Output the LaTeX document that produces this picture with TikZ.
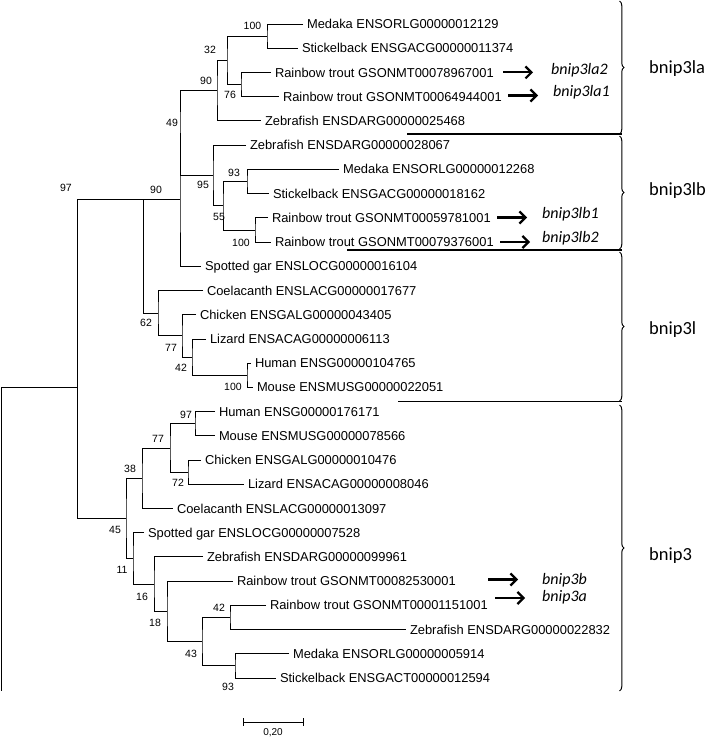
\documentclass[tikz,border=0pt]{standalone}
\usepackage{fontspec}
\setmainfont{Liberation Sans}
\newfontfamily\calibri{Carlito}
\usetikzlibrary{arrows.meta,decorations.pathreplacing}

\tikzset{
  leaf/.style={anchor=west, inner sep=0pt, outer xsep=4pt, text height=9.24pt, text depth=0pt, font=\fontsize{12.9}{14}\selectfont},
  boot/.style={inner sep=0pt, font=\fontsize{10.5}{12}\selectfont},
  gene/.style={anchor=west, inner sep=0pt, font=\calibri\itshape\fontsize{16}{18}\selectfont},
  clade/.style={anchor=west, inner sep=0pt, font=\calibri\fontsize{18.5}{20}\selectfont},
  branch/.style={line width=0.8pt},
  genearrow/.style={line width=2.2pt, -{Straight Barb[length=6pt,width=12pt]}},
  cladeline/.style={line width=1.2pt},
  bracket/.style={line width=1pt, decorate, decoration={brace, amplitude=4.5pt}},
}

\begin{document}
\begin{tikzpicture}[x=1pt, y=-1pt]
\useasboundingbox (0,0) rectangle (705,738);

% leaves, bnip3l side
\node[leaf] (medA) at (303,24) {Medaka ENSORLG00000012129};
\node[leaf] (stkA) at (298,48.2) {Stickelback ENSGACG00000011374};
\node[leaf] (rtA2) at (271,72.4) {Rainbow trout GSONMT00078967001};
\node[leaf] (rtA1) at (279,96.7) {Rainbow trout GSONMT00064944001};
\node[leaf] (zfA) at (261,120.9) {Zebrafish ENSDARG00000025468};
\node[leaf] (zfB) at (246,145.1) {Zebrafish ENSDARG00000028067};
\node[leaf] (medB) at (339,169.3) {Medaka ENSORLG00000012268};
\node[leaf] (stkB) at (269,193.5) {Stickelback ENSGACG00000018162};
\node[leaf] (rtB1) at (268,217.8) {Rainbow trout GSONMT00059781001};
\node[leaf] (rtB2) at (271,242) {Rainbow trout GSONMT00079376001};
\node[leaf] (garL) at (201,266.2) {Spotted gar ENSLOCG00000016104};
\node[leaf] (coeL) at (203,290.4) {Coelacanth ENSLACG00000017677};
\node[leaf] (chkL) at (196,314.6) {Chicken ENSGALG00000043405};
\node[leaf] (lizL) at (206,338.9) {Lizard ENSACAG00000006113};
\node[leaf] (humL) at (251,363.1) {Human ENSG00000104765};
\node[leaf] (musL) at (253,387.3) {Mouse ENSMUSG00000022051};
% leaves, bnip3 side
\node[leaf] (hum3) at (215,411.5) {Human ENSG00000176171};
\node[leaf] (mus3) at (215,435.7) {Mouse ENSMUSG00000078566};
\node[leaf] (chk3) at (201,460) {Chicken ENSGALG00000010476};
\node[leaf] (liz3) at (244,484.2) {Lizard ENSACAG00000008046};
\node[leaf] (coe3) at (173,508.4) {Coelacanth ENSLACG00000013097};
\node[leaf] (gar3) at (144,532.6) {Spotted gar ENSLOCG00000007528};
\node[leaf] (zf3b) at (203,556.8) {Zebrafish ENSDARG00000099961};
\node[leaf] (rt3b) at (233,581.1) {Rainbow trout GSONMT00082530001};
\node[leaf] (rt3a) at (266,605.3) {Rainbow trout GSONMT00001151001};
\node[leaf] (zf3a) at (406,629.5) {Zebrafish ENSDARG00000022832};
\node[leaf] (med3) at (289,653.7) {Medaka ENSORLG00000005914};
\node[leaf] (stk3) at (276,677.9) {Stickelback ENSGACT00000012594};

% inner nodes
\coordinate (n100a) at (267,36.1);
\coordinate (n76) at (241,84.55);
\coordinate (n32) at (227,60.3);
\coordinate (n90a) at (217,90.6);
\coordinate (n93) at (247,181.4);
\coordinate (n100b) at (255,229.9);
\coordinate (n55) at (223,205.65);
\coordinate (n95) at (213,175.4);
\coordinate (n49) at (180,133);
\coordinate (n90b) at (180,199.6);
\coordinate (n100c) at (247,375.2);
\coordinate (n42) at (192,357);
\coordinate (n77) at (182,335.8);
\coordinate (n62) at (158,313.1);
\coordinate (n62p) at (143,199.6);
\coordinate (n97) at (77,199.6);
\coordinate (n97b) at (195,423.6);
\coordinate (n72) at (188,472.1);
\coordinate (n77b) at (170,447.9);
\coordinate (n38) at (142,478.1);
\coordinate (n93b) at (235,665.8);
\coordinate (n42b) at (230,617.4);
\coordinate (n43) at (202,641.6);
\coordinate (n18) at (167,611.4);
\coordinate (n16) at (154,584.1);
\coordinate (n11) at (133,558.4);
\coordinate (n45) at (126,518.2);
\coordinate (ntop) at (77,387.3);
\coordinate (root) at (1,387.3);
\coordinate (rootend) at (1,691);

% branches
\draw[branch] (medA.west) -| (n100a) |- (stkA.west);
\draw[branch] (rtA2.west) -| (n76) |- (rtA1.west);
\draw[branch] (n100a) -| (n32) |- (n76);
\draw[branch] (n32) -| (n90a) |- (zfA.west);
\draw[branch] (medB.west) -| (n93) |- (stkB.west);
\draw[branch] (rtB1.west) -| (n100b) |- (rtB2.west);
\draw[branch] (n93) -| (n55) |- (n100b);
\draw[branch] (zfB.west) -| (n95) |- (n55);
\draw[branch] (n90a) -| (n49) |- (n95);
\draw[branch] (n49) -| (n90b) |- (garL.west);
\draw[branch] (humL.west) -| (n100c) |- (musL.west);
\draw[branch] (lizL.west) -| (n42) |- (n100c);
\draw[branch] (chkL.west) -| (n77) |- (n42);
\draw[branch] (coeL.west) -| (n62) |- (n77);
\draw[branch] (n62p) |- (n62);
\draw[branch] (hum3.west) -| (n97b) |- (mus3.west);
\draw[branch] (chk3.west) -| (n72) |- (liz3.west);
\draw[branch] (n97b) -| (n77b) |- (n72);
\draw[branch] (n77b) -| (n38) |- (coe3.west);
\draw[branch] (med3.west) -| (n93b) |- (stk3.west);
\draw[branch] (rt3a.west) -| (n42b) |- (zf3a.west);
\draw[branch] (n42b) -| (n43) |- (n93b);
\draw[branch] (rt3b.west) -| (n18) |- (n43);
\draw[branch] (zf3b.west) -| (n16) |- (n18);
\draw[branch] (gar3.west) -| (n11) |- (n16);
\draw[branch] (n38) -| (n45) |- (n11);
\draw[branch] (n90b) -- (n97) |- (n45);
\draw[branch] (ntop) -- (root) -- (rootend);

% bootstrap values
\node[boot] (bs100a) at (252.5,26) {100};
\node[boot] (bs32) at (210,50) {32};
\node[boot] (bs90a) at (206,81) {90};
\node[boot] (bs76) at (230,95) {76};
\node[boot] (bs49) at (172,123) {49};
\node[boot] (bs95) at (203,185) {95};
\node[boot] (bs90b) at (156,190) {90};
\node[boot] (bs93) at (234,173) {93};
\node[boot] (bs55) at (219,217) {55};
\node[boot] (bs100b) at (241,243) {100};
\node[boot] (bs97) at (66,188) {97};
\node[boot] (bs62) at (146,323) {62};
\node[boot] (bs77) at (171,348) {77};
\node[boot] (bs42) at (181,368) {42};
\node[boot] (bs100c) at (233,387) {100};
\node[boot] (bs97b) at (186,415) {97};
\node[boot] (bs77b) at (158,439) {77};
\node[boot] (bs72) at (178,483) {72};
\node[boot] (bs38) at (130,469) {38};
\node[boot] (bs45) at (115,530) {45};
\node[boot] (bs11) at (122,570) {11};
\node[boot] (bs16) at (142,597) {16};
\node[boot] (bs18) at (155,623) {18};
\node[boot] (bs42b) at (219,608) {42};
\node[boot] (bs43) at (191,654) {43};
\node[boot] (bs93b) at (228,687) {93};

% gene arrows
\coordinate (la2s) at (503,72.4);  \coordinate (la2e) at (533,72.4);
\coordinate (la1s) at (508,95.5);  \coordinate (la1e) at (538,95.5);
\coordinate (lb1s) at (497,217.5); \coordinate (lb1e) at (527,217.5);
\coordinate (lb2s) at (500,242);   \coordinate (lb2e) at (530,242);
\coordinate (g3bs) at (488,579.5); \coordinate (g3be) at (518,579.5);
\coordinate (g3as) at (495,598);   \coordinate (g3ae) at (525,598);
\draw[genearrow] (la2s) -- (la2e);
\draw[genearrow] (la1s) -- (la1e);
\draw[genearrow] (lb1s) -- (lb1e);
\draw[genearrow] (lb2s) -- (lb2e);
\draw[genearrow] (g3bs) -- (g3be);
\draw[genearrow] (g3as) -- (g3ae);
\node[gene] (la2) at (551,70) {bnip3la2};
\node[gene] (la1) at (553,92) {bnip3la1};
\node[gene] (lb1) at (542,214) {bnip3lb1};
\node[gene] (lb2) at (542,238) {bnip3lb2};
\node[gene] (g3b) at (542,580) {bnip3b};
\node[gene] (g3a) at (542,597) {bnip3a};

% clade separators and brackets
\coordinate (sepA) at (407,134);  \coordinate (sepAe) at (622,134);
\coordinate (sepB) at (347,250);  \coordinate (sepBe) at (622,250);
\coordinate (sepC) at (398,401.5);\coordinate (sepCe) at (622,401.5);
\draw[cladeline] (sepA) -- (sepAe);
\draw[cladeline] (sepB) -- (sepBe);
\draw[cladeline] (sepC) -- (sepCe);
\draw[bracket] (619.5,1) -- (619.5,134);
\draw[bracket] (619.5,136) -- (619.5,249);
\draw[bracket] (619.5,252) -- (619.5,401);
\draw[bracket] (619.5,405) -- (619.5,691);
\node[clade] (cla) at (649,68.5) {bnip3la};
\node[clade] (clb) at (649,191) {bnip3lb};
\node[clade] (cl) at (649,330) {bnip3l};
\node[clade] (c3) at (649,556) {bnip3};

% scale bar
\coordinate (sbl) at (243,722);
\coordinate (sbr) at (303,722);
\draw[branch] (sbl) -- (sbr);
\draw[branch] ([yshift=4pt]sbl) -- ([yshift=-4pt]sbl);
\draw[branch] ([yshift=4pt]sbr) -- ([yshift=-4pt]sbr);
\node[boot, font=\fontsize{10}{12}\selectfont] (sblab) at (273,733) {0,20};
\end{tikzpicture}
\end{document}
